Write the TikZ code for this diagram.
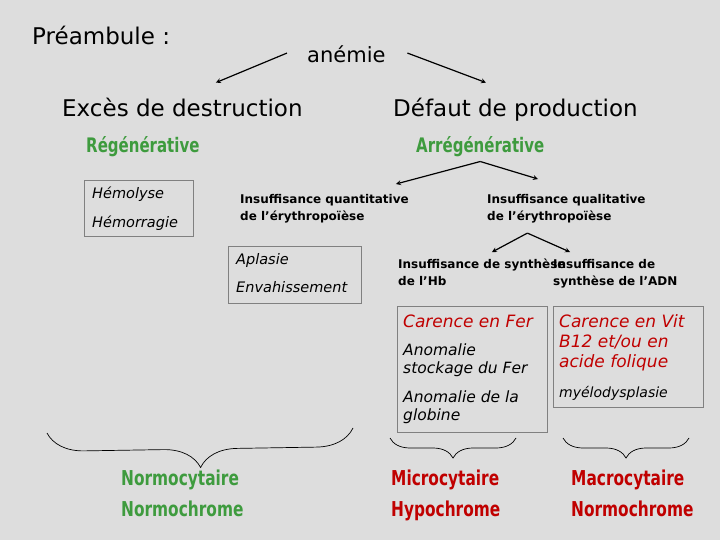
\documentclass[tikz,border=0pt]{standalone}
\usepackage{fontspec}
\setmainfont{DejaVu Sans}
\newfontfamily\narrowfont[FakeStretch=0.75]{DejaVu Sans}
\usepackage{xcolor}
\usetikzlibrary{positioning,decorations.pathreplacing}
\definecolor{PageGray}{RGB}{221,221,221}
\definecolor{LeafGreen}{RGB}{62,155,62}
\definecolor{DeepRed}{RGB}{192,0,0}
\definecolor{FrameGray}{RGB}{128,128,128}

\begin{document}
\begin{tikzpicture}[
    x=1pt, y=-1pt,
    heading/.style={anchor=base west, inner sep=0pt, font=\fontsize{23}{27}\selectfont},
    kind/.style={anchor=base west, inner sep=0pt, font=\narrowfont\bfseries\fontsize{20}{24}\selectfont, LeafGreen},
    cause/.style={anchor=north west, inner sep=0pt, align=left, font=\bfseries\fontsize{12}{17}\selectfont},
    panel/.style={draw=FrameGray, line width=0.8pt, anchor=north west, inner sep=0pt},
    item/.style={anchor=north west, inner sep=0pt, align=left, font=\itshape\fontsize{14.5}{29}\selectfont},
    lack/.style={anchor=north west, inner sep=0pt, align=left, font=\itshape\fontsize{17}{20}\selectfont, DeepRed},
    result/.style={anchor=base west, inner sep=0pt, font=\narrowfont\bfseries\fontsize{20.5}{24}\selectfont},
    arrow/.style={->, >=stealth, line width=1.2pt},
    curly/.style={decorate, decoration={brace, amplitude=#1}, line width=0.7pt}
  ]
  \fill[PageGray] (0,0) rectangle (720,540);
  \useasboundingbox (0,0) rectangle (720,540);

  % titles
  \node[heading] (preamble) at (32,45) {Préambule :};
  \node[heading, font=\fontsize{21}{25}\selectfont] (anemie) at (307,63) {anémie};
  \node[heading] (excess) at (62,117) {Excès de destruction};
  \node[heading] (defaut) at (393,117) {Défaut de production};
  \node[kind] (regen) at (86,153) {Régénérative};
  \node[kind] (arregen) at (416,153) {Arrégénérative};

  % causes
  \node[cause] (quant) at (240,194) {Insuffisance quantitative\\de l'érythropoïèse};
  \node[cause] (qual) at (487,194) {Insuffisance qualitative\\de l'érythropoïèse};
  \node[cause] (hbsyn) at (398,258.5) {Insuffisance de synthèse\\de l'Hb};
  \node[cause] (adnsyn) at (553,259) {Insuffisance de\\synthèse de l'ADN};

  % boxes
  \node[panel, minimum width=109, minimum height=56] (lysebox) at (84,180) {};
  \node[item] (lyse) at ([shift={(8,7)}]lysebox.north west) {Hémolyse\\Hémorragie};

  \node[panel, minimum width=133, minimum height=57] (bonebox) at (228,246) {};
  \node[item, font=\itshape\fontsize{14.5}{28}\selectfont] (bone) at ([shift={(8,7.4)}]bonebox.north west) {Aplasie\\Envahissement};

  \node[panel, minimum width=150, minimum height=126] (ironbox) at (397,306) {};
  \node[lack] (iron) at ([shift={(6,8.6)}]ironbox.north west) {Carence en Fer};
  \node[item, font=\itshape\fontsize{15.5}{18}\selectfont] (store) at ([shift={(6,37.2)}]ironbox.north west) {Anomalie\\stockage du Fer};
  \node[item, font=\itshape\fontsize{15.5}{18}\selectfont] (globin) at ([shift={(6,84.2)}]ironbox.north west) {Anomalie de la\\globine};

  \node[panel, minimum width=150, minimum height=101] (vitbox) at (553,306) {};
  \node[lack] (vit) at ([shift={(6,8.1)}]vitbox.north west) {Carence en Vit\\B12 et/ou en\\acide folique};
  \node[item, font=\itshape\fontsize{14}{18}\selectfont] (myelo) at ([shift={(6,80.4)}]vitbox.north west) {myélodysplasie};

  % results
  \node[result, LeafGreen] (normocyt) at (121,485) {Normocytaire};
  \node[result, LeafGreen] (normochr) at (121,516) {Normochrome};
  \node[result, DeepRed] (microcyt) at (391,485) {Microcytaire};
  \node[result, DeepRed] (hypochr) at (391,516) {Hypochrome};
  \node[result, DeepRed] (macrocyt) at (571,485) {Macrocytaire};
  \node[result, DeepRed] (normochrb) at (571,516) {Normochrome};

  % arrows
  \draw[arrow] ([shift={(-20,-1.7)}]anemie.west) -- ([shift={(33.5,-15.8)}]excess.north);
  \draw[arrow] ([shift={(21.7,-1.7)}]anemie.east) -- ([shift={(-29.5,-15.8)}]defaut.north);

  \coordinate (splitA) at ([shift={(0,4)}]arregen.south);
  \draw[arrow] (splitA) -- ([shift={(-13,-10)}]quant.north east);
  \draw[arrow] (splitA) -- ([shift={(51,-15)}]qual.north west);

  \coordinate (splitB) at ([shift={(-39,10)}]qual.south);
  \draw[arrow] (splitB) -- ([shift={(10,-6.4)}]hbsyn.north);
  \draw[arrow] (splitB) -- ([shift={(17,-7)}]adnsyn.north west);

  % braces
  \draw[curly=37] (353,428) -- (47,433);
  \draw[curly=20] (516,438) -- (390,438);
  \draw[curly=20] (689,438) -- (563,438);
\end{tikzpicture}
\end{document}
